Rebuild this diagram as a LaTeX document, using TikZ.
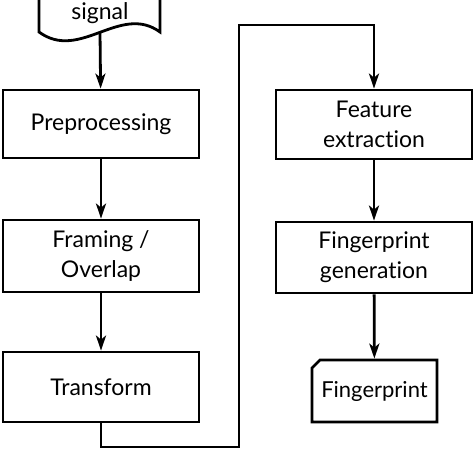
\documentclass[tikz,border=0pt]{standalone}
\usepackage{fontspec}
\setmainfont{Lato}[Ligatures={NoCommon}]
\usetikzlibrary{arrows.meta, shapes.misc, positioning}

\tikzset{
    procbox/.style={draw, line width=2.8pt, fill=white, minimum width=196pt,
        align=center, inner sep=0pt, font=\fontsize{23}{30}\selectfont},
    outbox/.style={chamfered rectangle, chamfered rectangle corners=north west,
        chamfered rectangle xsep=4pt, chamfered rectangle ysep=4pt,
        draw, line width=2.8pt, minimum width=125pt, minimum height=62pt,
        inner sep=0pt, font=\fontsize{22}{30}\selectfont},
    flow/.style={-{Stealth[length=15pt,width=10pt,inset=4pt]}, line width=2.8pt}
}

\begin{document}
\begin{tikzpicture}[x=1pt, y=-1pt]
\useasboundingbox (0,0) rectangle (474,449);

% Input signal
\draw[line width=2.8pt, fill=white] (39,-5) -- (39,32)
    .. controls (80,62) and (120,3) .. (160,32) -- (160,-5);
\node[anchor=base, font=\fontsize{23}{30}\selectfont] (sig) at (100,20) {signal};
\coordinate (sigb) at (100,32);

% Left column
\node[procbox, minimum height=68pt] (pre) at (101,124) {Preprocessing};
\node[procbox, minimum height=72pt] (fra) at (101,256) {Framing /\\Overlap};
\node[procbox, minimum height=70pt] (tra) at (101,387) {Transform};

% Right column
\node[procbox, minimum height=69pt] (fea) at (374,124.5) {Feature\\extraction};
\node[procbox, minimum height=71pt] (gen) at (374,257.5) {Fingerprint\\generation};
\node[outbox] (fp) at (374.5,391) {Fingerprint};

% Loop-around corners
\coordinate (lowc) at (239,447);
\coordinate (topc) at (239,25);

% Connectors
\draw[flow] (sigb) -- (pre);
\draw[flow] (pre) -- (fra);
\draw[flow] (fra) -- (tra);
\draw[flow] (tra.south) |- (lowc) -- (topc) -| (fea.north);
\draw[flow] (fea) -- (gen);
\draw[flow] (gen) -- (fp);
\end{tikzpicture}
\end{document}
